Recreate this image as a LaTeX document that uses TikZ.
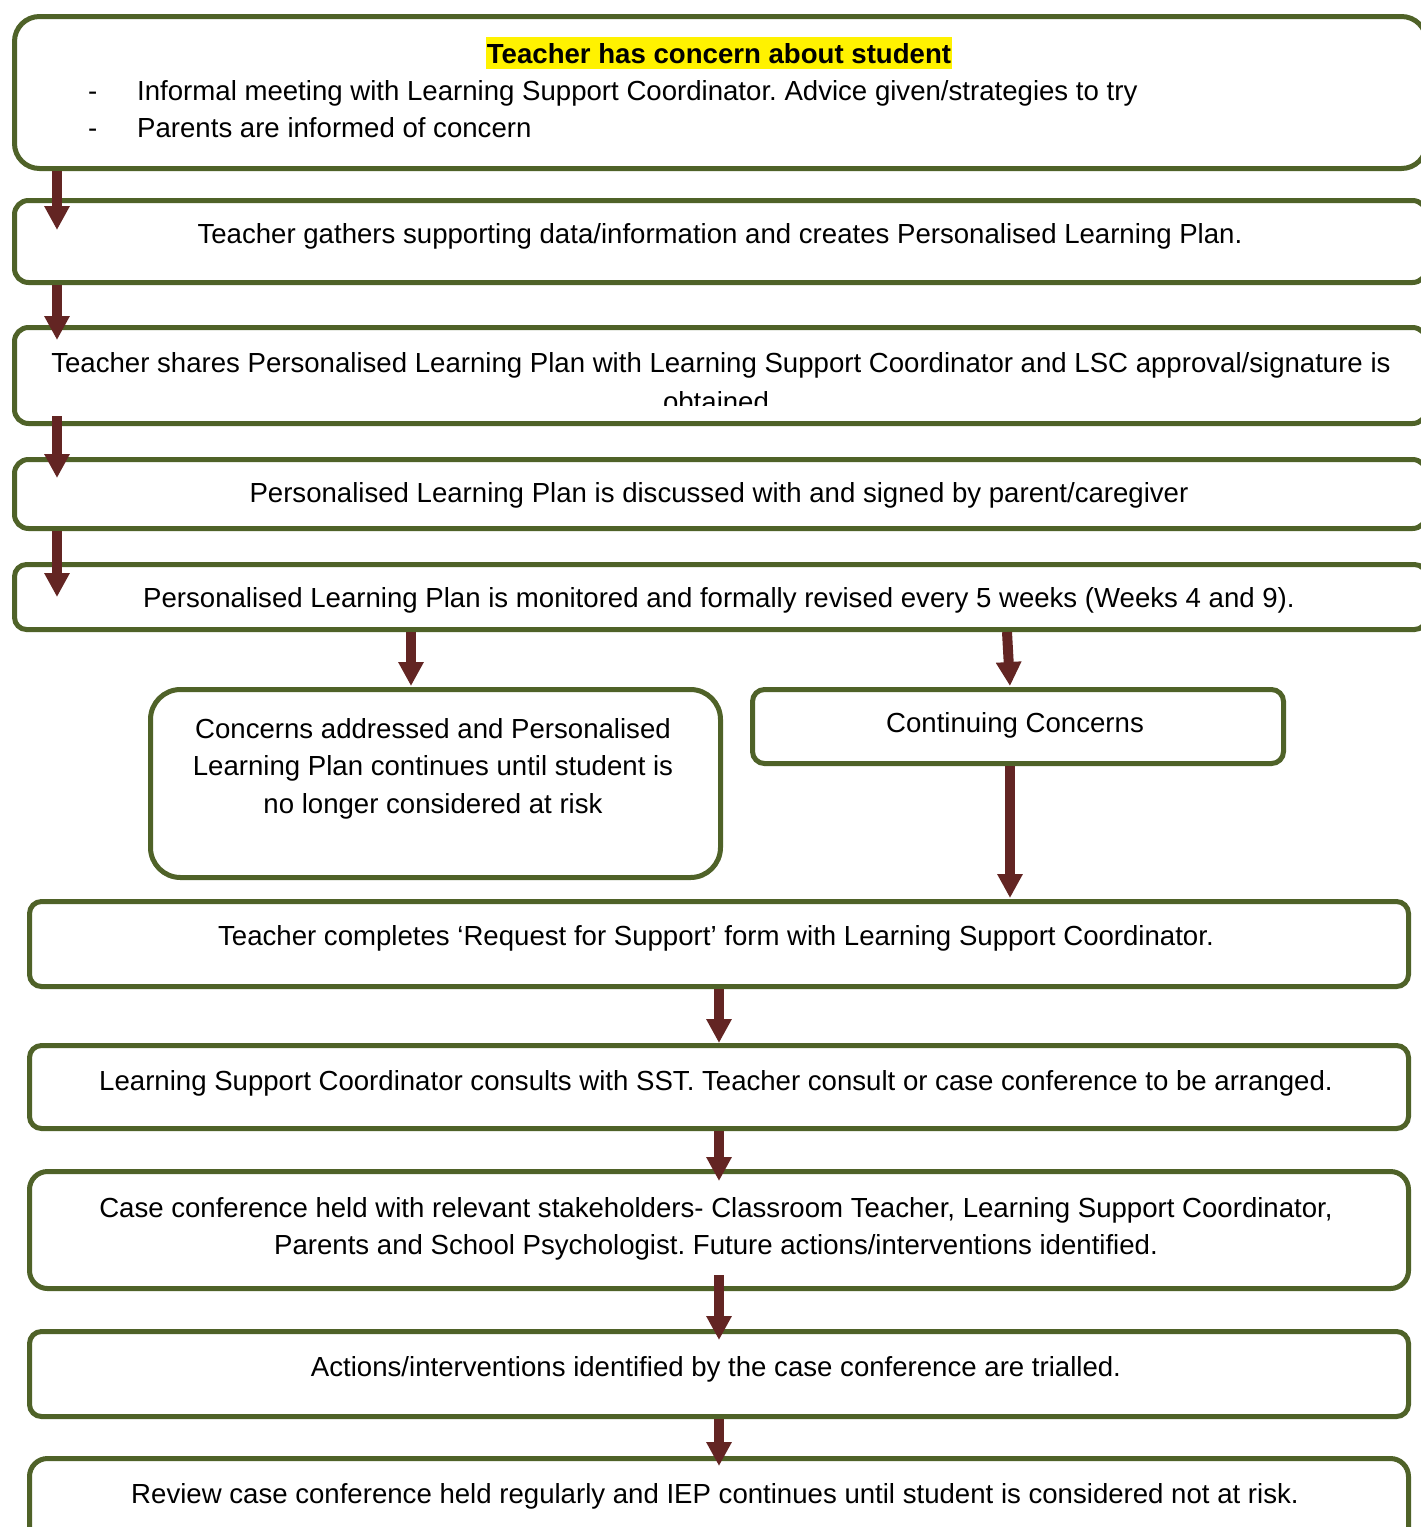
\documentclass[tikz,border=0pt]{standalone}
\usepackage{fontspec}
\setmainfont{Liberation Sans}
\usetikzlibrary{arrows.meta,calc}
\definecolor{boxgreen}{HTML}{4F6228}
\definecolor{arrowred}{HTML}{632523}
\frenchspacing
\begin{document}
\begin{tikzpicture}[x=1pt,y=-1pt,
  box/.style={draw=boxgreen, line width=5pt, fill=white, rounded corners=#1,
    anchor=north west, inner sep=0pt},
  box/.default=14pt,
  txt/.style={font=\fontsize{27.6}{37}\selectfont, inner sep=0pt, anchor=base},
  ltxt/.style={txt, anchor=base west},
  arr/.style={draw=arrowred, line width=10pt,
    -{Triangle[width=24pt,length=24pt]}},
]
\clip (0,0) rectangle (1421,1527);
\fill[white] (0,0) rectangle (1421,1527);

% boxes
\node[box=25pt, minimum width=1412pt, minimum height=152pt] (b1) at (12,14) {};
\node[box=14pt, minimum width=1412pt, minimum height=82pt] (b2) at (12,198) {};
\node[box=14pt, minimum width=1412pt, minimum height=96pt] (b3) at (12,325) {};
\node[box=14pt, minimum width=1412pt, minimum height=69pt] (b4) at (12,457) {};
\node[box=12pt, minimum width=1412pt, minimum height=65pt] (b5) at (12,562) {};
\node[box=30pt, minimum width=570pt, minimum height=188pt] (b6) at (148,687) {};
\node[box=12pt, minimum width=531pt, minimum height=74pt] (b7) at (750,687) {};
\node[box=12pt, minimum width=1379pt, minimum height=85pt] (b8) at (27,899) {};
\node[box=12pt, minimum width=1379pt, minimum height=83pt] (b9) at (27,1043) {};
\node[box=18pt, minimum width=1379pt, minimum height=117pt] (b10) at (27,1169) {};
\node[box=12pt, minimum width=1379pt, minimum height=85pt] (b11) at (27,1329) {};
\node[box=18pt, minimum width=1379pt, minimum height=110pt] (b12) at (27,1456) {};

% texts
\node[txt, fill=yellow, inner xsep=1pt, inner ysep=5pt, text height=21pt, text depth=1pt,
  font=\fontsize{27.6}{37}\selectfont\bfseries] (t1) at (719,63) {Teacher has concern about student};
\node[ltxt] (d1) at (88,100) {-};
\node[ltxt] (d2) at (88,137) {-};
\node[ltxt] (t1a) at (137,100) {Informal meeting with Learning Support Coordinator. Advice given/strategies to try};
\node[ltxt] (t1b) at (137,137) {Parents are informed of concern};
\node[txt] (t2) at (720,243) {Teacher gathers supporting data/information and creates Personalised Learning Plan.};
\node[txt] (t3) at (721,372) {Teacher shares Personalised Learning Plan with Learning Support Coordinator and LSC approval/signature is};
\begin{scope}
\clip (14,330) rectangle (1421,405);
\node[txt] (t3b) at (716,411) {obtained};
\end{scope}
\node[txt] (t4) at (719,502) {Personalised Learning Plan is discussed with and signed by parent/caregiver};
\node[txt] (t5) at (719,607) {Personalised Learning Plan is monitored and formally revised every 5 weeks (Weeks 4 and 9).};
\node[txt] (t6a) at (433,738) {Concerns addressed and Personalised};
\node[txt] (t6b) at (433,775) {Learning Plan continues until student is};
\node[txt] (t6c) at (433,813) {no longer considered at risk};
\node[txt] (t7) at (1015,732) {Continuing Concerns};
\node[txt] (t8) at (716,945) {Teacher completes `Request for Support' form with Learning Support Coordinator.};
\node[txt] (t9) at (716,1090) {Learning Support Coordinator consults with SST. Teacher consult or case conference to be arranged.};
\node[txt] (t10a) at (716,1217) {Case conference held with relevant stakeholders- Classroom Teacher, Learning Support Coordinator,};
\node[txt] (t10b) at (716,1254) {Parents and School Psychologist. Future actions/interventions identified.};
\node[txt] (t11) at (716,1376) {Actions/interventions identified by the case conference are trialled.};
\node[txt] (t12) at (715,1503) {Review case conference held regularly and IEP continues until student is considered not at risk.};

% arrow tip coordinates
\coordinate (e1) at (57,230);
\coordinate (e2) at (57,340);
\coordinate (e3) at (57,478);
\coordinate (e4) at (57,597);
\coordinate (e5) at (411,686);
\coordinate (e6) at (1010,686);
\coordinate (e7) at (1010,898);
\coordinate (e8) at (719,1043);
\coordinate (e9) at (719,1181);
\coordinate (e10) at (719,1340);
\coordinate (e11) at (719,1466);

\draw[arr] (b1.south -| e1) -- (e1);
\draw[arr] (b2.south -| e2) -- (e2);
\draw[arr] ($(b3.south -| e3)+(0,-10)$) -- (e3);
\draw[arr] (b4.south -| e4) -- (e4);
\draw[arr] (b5.south -| e5) -- (e5);
\draw[arr] ($(b5.south -| e6)+(-3,0)$) -- (e6);
\draw[arr] (b7.south -| e7) -- (e7);
\draw[arr] (b8.south -| e8) -- (e8);
\draw[arr] (b9.south -| e9) -- (e9);
\draw[arr] ($(b10.south -| e10)+(0,-16)$) -- (e10);
\draw[arr] (b11.south -| e11) -- (e11);
\end{tikzpicture}
\end{document}
